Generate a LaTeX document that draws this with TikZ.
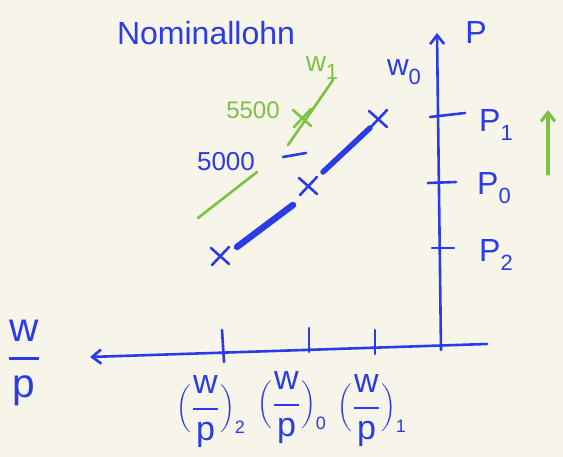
\documentclass[tikz,border=0pt]{standalone}
\usepackage{fontspec}
\setmainfont{Liberation Sans}
\usetikzlibrary{arrows.meta,calc}
\definecolor{paper}{HTML}{F7F4EA}
\definecolor{ink}{HTML}{2A3CE6}
\definecolor{leaf}{HTML}{7CC243}
\tikzset{
  pen/.style={draw=ink, line width=2.6pt, line cap=round, line join=round},
  gpen/.style={draw=leaf, line width=2.6pt, line cap=round},
  txt/.style={text=ink, inner sep=0pt, font=\fontsize{32}{34}\selectfont},
  gtxt/.style={text=leaf, inner sep=0pt, font=\fontsize{24}{26}\selectfont},
  tip/.style={-{Straight Barb[length=9pt,width=14pt,line width=2.6pt]}}
}
\newcommand{\xmark}[2]{%
  \draw[#2] ($(#1)+(-9,-8)$) -- ($(#1)+(9,8)$);
  \draw[#2] ($(#1)+(-8,9)$) -- ($(#1)+(9,-9)$);}
\newcommand{\wpfrac}[1]{{\displaystyle\mbox{w}\above #1\mbox{p}}}
\newcommand{\wpsub}[1]{\scalebox{2}{\fontsize{17}{19}\selectfont$\displaystyle\Biggl(\wpfrac{0.9pt}\Biggr)_{\mbox{\fontsize{9}{10}\selectfont #1}}$}}
\newcommand{\sub}[1]{\raisebox{-0.3em}{\fontsize{22}{24}\selectfont #1}}
\begin{document}
\begin{tikzpicture}[x=1pt,y=-1pt]
\fill[paper] (0,0) rectangle (563,457);
\useasboundingbox (0,0) rectangle (563,457);
% title
\node[txt] (title) at (206,33) {Nominallohn};
% axes
\coordinate (vbot) at (441,350);
\coordinate (vtop) at (437,33);
\draw[pen,tip] (vbot) -- (vtop);
\node[txt] (Plab) at (476,32) {P};
\coordinate (hright) at (487,344);
\coordinate (hleft) at (90,357);
\draw[pen,tip] (hright) -- (hleft);
\node[txt] (wp) at (24,363) {\scalebox{2.9}{\fontsize{14}{16}\selectfont$\displaystyle\wpfrac{1pt}$}};
% P ticks
\coordinate (t1a) at (430,117); \coordinate (t1b) at (465,113);
\coordinate (t0a) at (428,183); \coordinate (t0b) at (456,182);
\coordinate (t2a) at (432,248); \coordinate (t2b) at (454,248);
\draw[pen] (t1a) -- (t1b);
\draw[pen] (t0a) -- (t0b);
\draw[pen] (t2a) -- (t2b);
\node[txt] (P1) at (496,125) {P\sub{1}};
\node[txt] (P0) at (494,188) {P\sub{0}};
\node[txt] (P2) at (496,255) {P\sub{2}};
% green arrow
\coordinate (ga) at (548,174);
\coordinate (gb) at (548,110);
\draw[gpen,line width=3.2pt,-{Straight Barb[length=9pt,width=14pt,line width=3pt]}] (ga) -- (gb);
% w/p ticks
\coordinate (h1a) at (222,330); \coordinate (h1b) at (224,362);
\coordinate (h2a) at (309,328); \coordinate (h2b) at (309,352);
\coordinate (h3a) at (375,330); \coordinate (h3b) at (375,354);
\draw[pen] (h1a) -- (h1b);
\draw[pen] (h2a) -- (h2b);
\draw[pen] (h3a) -- (h3b);
\node[txt] (wp2) at (211,412) {\wpsub{2}};
\node[txt] (wp0) at (292,408) {\wpsub{0}};
\node[txt] (wp1) at (372,411) {\wpsub{1}};
% blue points and curve
\coordinate (x1) at (378,119);
\coordinate (x0) at (308,186);
\coordinate (x2) at (220,256);
\xmark{x1}{pen}
\xmark{x0}{pen}
\xmark{x2}{pen}
\coordinate (s1a) at (323,172); \coordinate (s1b) at (370,128);
\coordinate (s2a) at (237,247); \coordinate (s2b) at (293,205);
\draw[pen,line width=5.5pt] (s1a) -- (s1b);
\draw[pen,line width=6.5pt] (s2a) -- (s2b);
\node[txt,font=\fontsize{30}{32}\selectfont] (w0) at (404,72) {w\sub{0}};
% green curve
\coordinate (g1a) at (333,80); \coordinate (g1b) at (288,145);
\coordinate (g2a) at (257,172); \coordinate (g2b) at (198,218);
\draw[gpen] (g1a) -- (g1b);
\draw[gpen] (g2a) -- (g2b);
\coordinate (gx) at (302,118);
\xmark{gx}{gpen}
\node[gtxt,font=\fontsize{28}{30}\selectfont] (w1) at (322,68) {w\sub{1}};
\node[gtxt] (g5500) at (253,110) {5500};
% 5000 label
\node[txt,font=\fontsize{26}{28}\selectfont] (b5000) at (226,162) {5000};
\coordinate (da) at (283,157); \coordinate (db) at (306,153);
\draw[pen] (da) -- (db);
\end{tikzpicture}
\end{document}
